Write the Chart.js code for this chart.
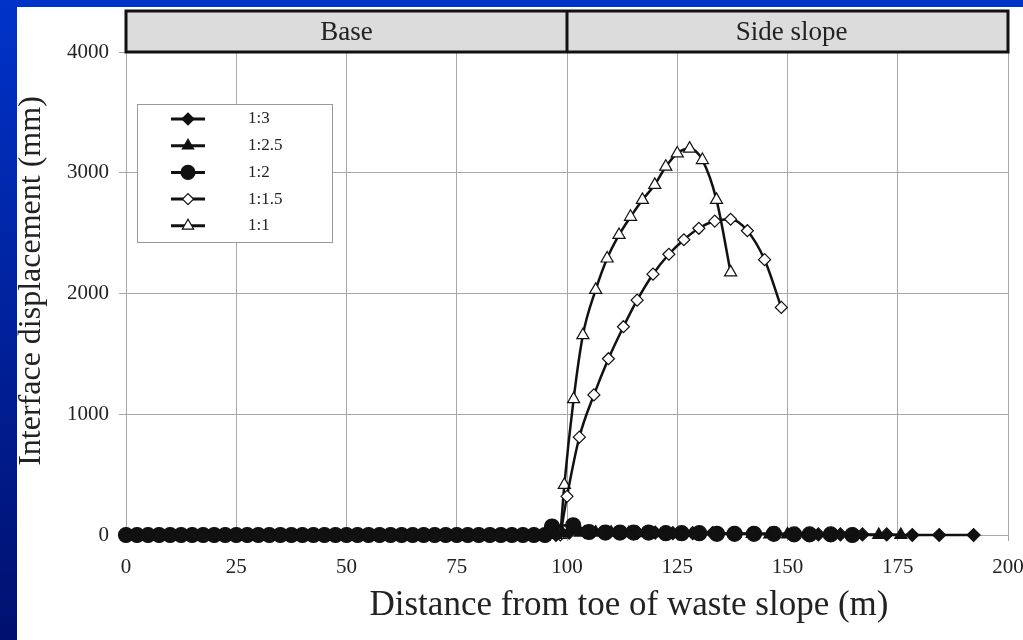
<!DOCTYPE html>
<html>
<head>
<meta charset="utf-8">
<script src="https://cdn.jsdelivr.net/npm/chart.js@4/dist/chart.umd.min.js"></script>
<style>
  body { margin: 0; background: #fff; width: 1023px; height: 640px; overflow: hidden; position: relative; }
  #chart { position: absolute; left: 0; top: 0; }
  .strip-top { position: absolute; left: 0; top: 0; width: 1023px; height: 7px; background: #0033c8; z-index: 2; }
  .strip-left { position: absolute; left: 0; top: 0; width: 17px; height: 640px; background: linear-gradient(#0033c8, #00106f); z-index: 2; }
</style>
</head>
<body>
<div class="strip-top"></div>
<div class="strip-left"></div>
<canvas id="chart" width="1023" height="640"></canvas>
<script>
// section names over the plot
const sections = ['Base', 'Side slope'];
const sectionBreak = 100;

const xTicks = [0, 25, 50, 75, 100, 125, 150, 175, 200];
const yTicks = [0, 1000, 2000, 3000, 4000];

const seriesNames = ['1:3', '1:2.5', '1:2', '1:1.5', '1:1'];

// base points (distance, m) shared by the filled series
const baseX = [0, 2.5, 5, 7.5, 10, 12.5, 15, 17.5, 20, 22.5, 25, 27.5, 30, 32.5, 35, 37.5,
  40, 42.5, 45, 47.5, 50, 52.5, 55, 57.5, 60, 62.5, 65, 67.5, 70, 72.5, 75, 77.5,
  80, 82.5, 85, 87.5, 90, 92.5, 95, 97.5];
const baseY = [0, 0, 0, 0, 0, 0, 0, 0, 0, 0, 0, 0, 0, 0, 0, 0,
  0, 0, 0, 0, 0, 0, 0, 0, 0, 0, 0, 0, 0, 0, 0, 0,
  0, 0, 0, 0, 0, 0, 0, 0];

// side slope points
const s13X = [100.5, 104, 108, 112, 116, 120, 124, 128.5, 133, 137.5, 142, 147, 152, 157, 162, 167, 172.5, 178.3, 184.4, 192.2];
const s13Y = [20, 25, 25, 20, 20, 20, 15, 15, 15, 10, 10, 10, 10, 5, 5, 5, 5, 0, 0, 0];

const s125X = [99, 103, 106.5, 110, 114, 118, 122, 126, 130, 134, 138, 142, 146, 150, 155, 160, 165, 170.7, 175.7];
const s125Y = [15, 20, 20, 20, 15, 15, 15, 15, 10, 10, 10, 10, 5, 5, 5, 5, 0, 0, 0];

const s12X = [96.6, 101.4, 105, 108.7, 112, 115.1, 118.5, 122.4, 126, 130, 134, 138, 142.4, 146.9, 151.5, 155, 159.8, 164.7];
const s12Y = [70, 80, 25, 20, 20, 20, 20, 15, 15, 15, 10, 10, 10, 10, 5, 5, 5, 0];

const s115X = [98.5, 100, 102.8, 106.1, 109.4, 112.8, 115.9, 119.5, 123.1, 126.5, 129.9, 133.5, 137.1, 140.9, 144.8, 148.6];
const s115Y = [0, 320, 810, 1160, 1460, 1725, 1945, 2160, 2325, 2445, 2540, 2600, 2615, 2520, 2280, 1885];

const s11X = [98.5, 99.4, 101.5, 103.6, 106.5, 109.1, 111.8, 114.4, 117.1, 119.9, 122.4, 125.0, 127.8, 130.7, 133.9, 137.1];
const s11Y = [0, 415, 1125, 1655, 2030, 2290, 2485, 2635, 2775, 2900, 3050, 3160, 3200, 3105, 2775, 2175];

function toPoints(xs, ys) {
  return xs.map((x, i) => ({ x: x, y: ys[i] }))
}

const styles = [
  { pointStyle: 'rectRot', radius: 6.5, fill: '#111' },
  { pointStyle: 'triangle', radius: 7, fill: '#111' },
  { pointStyle: 'circle', radius: 7.5, fill: '#111' },
  { pointStyle: 'rectRot', radius: 6, fill: '#fff' },
  { pointStyle: 'triangle', radius: 7, fill: '#fff' }
];

const seriesData = [
  toPoints(baseX.concat(s13X), baseY.concat(s13Y)),
  toPoints(baseX.concat(s125X), baseY.concat(s125Y)),
  toPoints(baseX.slice(0, 39).concat(s12X), baseY.slice(0, 39).concat(s12Y)),
  toPoints(s115X, s115Y),
  toPoints(s11X, s11Y)
];

const datasets = seriesNames.map((name, i) => ({
  label: name,
  data: seriesData[i],
  showLine: true,
  borderColor: '#111',
  borderWidth: 2.5,
  cubicInterpolationMode: 'monotone',
  pointStyle: styles[i].pointStyle,
  pointRadius: styles[i].radius,
  pointBackgroundColor: styles[i].fill,
  pointBorderColor: '#111',
  pointBorderWidth: 1.2,
  clip: false
}));

const serif = "'Liberation Serif', 'DejaVu Serif', serif";

// header bar, inset legend and axis titles
const decorations = {
  id: 'decorations',
  afterDraw(chart) {
    const ctx = chart.ctx;
    const area = chart.chartArea;
    const xs = chart.scales.x;
    const mid = xs.getPixelForValue(sectionBreak);

    ctx.save();
    // header
    const top = 11, bottom = area.top;
    ctx.fillStyle = '#dcdcdc';
    ctx.fillRect(area.left, top, area.right - area.left, bottom - top);
    ctx.strokeStyle = '#111';
    ctx.lineWidth = 3;
    ctx.strokeRect(area.left, top, area.right - area.left, bottom - top);
    ctx.beginPath();
    ctx.moveTo(mid, top);
    ctx.lineTo(mid, bottom);
    ctx.stroke();
    ctx.fillStyle = '#222';
    ctx.font = '27px ' + serif;
    ctx.textAlign = 'center';
    ctx.textBaseline = 'middle';
    ctx.fillText(sections[0], (area.left + mid) / 2, (top + bottom) / 2 + 1);
    ctx.fillText(sections[1], (mid + area.right) / 2 + 4, (top + bottom) / 2 + 1);

    // legend box
    const lx = 137, ly = 104, lw = 195, lh = 138;
    ctx.fillStyle = '#fff';
    ctx.fillRect(lx, ly, lw, lh);
    ctx.strokeStyle = '#999';
    ctx.lineWidth = 1;
    ctx.strokeRect(lx + 0.5, ly + 0.5, lw, lh);
    ctx.font = '17px ' + serif;
    ctx.textAlign = 'left';
    seriesNames.forEach((name, i) => {
      const y = 119 + i * 26.7;
      ctx.strokeStyle = '#111';
      ctx.lineWidth = 3;
      ctx.beginPath();
      ctx.moveTo(171, y);
      ctx.lineTo(205, y);
      ctx.stroke();
      ctx.fillStyle = styles[i].fill;
      ctx.lineWidth = 1.2;
      Chart.helpers.drawPoint(ctx, {
        pointStyle: styles[i].pointStyle,
        radius: styles[i].radius - 0.5,
        rotation: 0,
        borderWidth: 1.2
      }, 188, y);
      ctx.fillStyle = '#222';
      ctx.fillText(name, 248, y);
    });

    // axis titles
    ctx.fillStyle = '#222';
    ctx.textAlign = 'center';
    ctx.textBaseline = 'alphabetic';
    ctx.font = '35px ' + serif;
    ctx.fillText('Distance from toe of waste slope (m)', 629, 615);
    ctx.font = '32px ' + serif;
    ctx.translate(40, 281);
    ctx.rotate(-Math.PI / 2);
    ctx.fillText('Interface displacement (mm)', 0, 0);
    ctx.restore();
  }
};

new Chart(document.getElementById('chart'), {
  type: 'scatter',
  data: { datasets },
  plugins: [decorations],
  options: {
    responsive: false,
    animation: false,
    layout: { padding: { top: 52, right: 15, left: 0, bottom: 0 } },
    plugins: {
      legend: { display: false },
      tooltip: { enabled: false }
    },
    scales: {
      x: {
        type: 'linear',
        min: 0,
        max: 200,
        afterFit(scale) {
          scale.height = 105;
          scale.paddingLeft = 0;
          scale.paddingRight = 0;
        },
        afterBuildTicks(scale) { scale.ticks = xTicks.map(v => ({ value: v })) },
        grid: { color: '#a8a8a8', lineWidth: 1, tickLength: 6 },
        border: { color: '#a8a8a8' },
        ticks: {
          color: '#222',
          font: { family: serif, size: 21 },
          padding: 14,
          maxRotation: 0,
          callback: v => String(v)
        }
      },
      y: {
        min: 0,
        max: 4000,
        afterFit(scale) {
          scale.width = 126;
          scale.paddingTop = 0;
          scale.paddingBottom = 0;
        },
        afterBuildTicks(scale) { scale.ticks = yTicks.map(v => ({ value: v })) },
        grid: { color: '#a8a8a8', lineWidth: 1, tickLength: 7 },
        border: { color: '#a8a8a8' },
        ticks: {
          color: '#222',
          font: { family: serif, size: 21 },
          padding: 10,
          callback: v => String(v)
        }
      }
    }
  }
});
</script>
</body>
</html>
